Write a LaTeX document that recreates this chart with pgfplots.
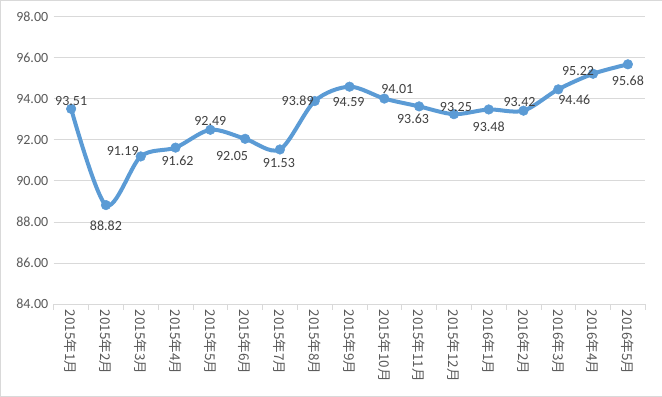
\documentclass[border=0pt]{standalone}
\usepackage{pgfplots}
\pgfplotsset{compat=1.18}
\usepackage{pgfplotstable}
\usepackage{fontspec}
\setmainfont{Carlito}
\newfontfamily\cjk{Noto Sans CJK SC}
\definecolor{linec}{HTML}{5B9BD5}
\definecolor{gridc}{HTML}{D9D9D9}
\definecolor{txt}{HTML}{595959}
\definecolor{lbl}{HTML}{404040}
\pgfplotstableread{
x y dx dy
0 93.51 0 8
1 88.82 0 -21
2 91.19 -18 5
3 91.62 2 -13
4 92.49 0 9
5 92.05 -13 -17
6 91.53 -1 -14
7 93.89 -17 0
8 94.59 -1 -15
9 94.01 13 10
10 93.63 -6 -12
11 93.25 2 7
12 93.48 0 -17
13 93.42 -4 9
14 94.46 16 -10
15 95.22 -15 2.5
16 95.68 0 -16
}\datatable
\begin{document}
\begin{tikzpicture}[x=1pt,y=1pt]
\path[draw=gridc] (0.5pt,0.5pt) rectangle (661.5pt,396.5pt);
\begin{axis}[
  at={(54pt,93pt)}, anchor=south west,
  scale only axis, width=591pt, height=287pt,
  xmin=-0.5, xmax=16.5, ymin=84, ymax=98,
  axis x line*=bottom, axis y line*=left,
  x axis line style={gridc, line width=0.8pt},
  y axis line style={draw=none},
  ytick={84,86,...,98},
  xtick={0,...,16},
  xticklabels={2015年1月,2015年2月,2015年3月,2015年4月,2015年5月,2015年6月,2015年7月,2015年8月,2015年9月,2015年10月,2015年11月,2015年12月,2016年1月,2016年2月,2016年3月,2016年4月,2016年5月},
  minor xtick={-0.5,0.5,...,16.5},
  major tick length=0pt, minor tick length=6pt, tick align=outside,
  tick style={gridc, line width=0.8pt},
  ymajorgrids, grid style={gridc, line width=0.8pt},
  /pgf/number format/assume math mode=true,
  yticklabel style={/pgf/number format/.cd, fixed, fixed zerofill, precision=2, /tikz/.cd, font=\fontsize{14}{16}\selectfont, color=txt, xshift=-2pt},
  xticklabel style={rotate=-90, anchor=west, font=\cjk\fontsize{13.5}{16}\selectfont, color=txt, xshift=2pt},
  clip=false,
]
\addplot[linec, line width=4pt, smooth, mark=*, mark size=4.8pt,
  mark options={fill=linec, draw=linec, line width=0.5pt},
  visualization depends on={\thisrow{dx} \as \labdx},
  visualization depends on={\thisrow{dy} \as \labdy},
  nodes near coords={\pgfmathprintnumber[fixed,fixed zerofill,precision=2]{\pgfplotspointmeta}},
  every node near coord/.append style={anchor=center, font=\fontsize{14}{16}\selectfont, color=lbl, xshift=\labdx pt, yshift=\labdy pt},
] table[x=x, y=y] {\datatable};
\end{axis}
\end{tikzpicture}
\end{document}
